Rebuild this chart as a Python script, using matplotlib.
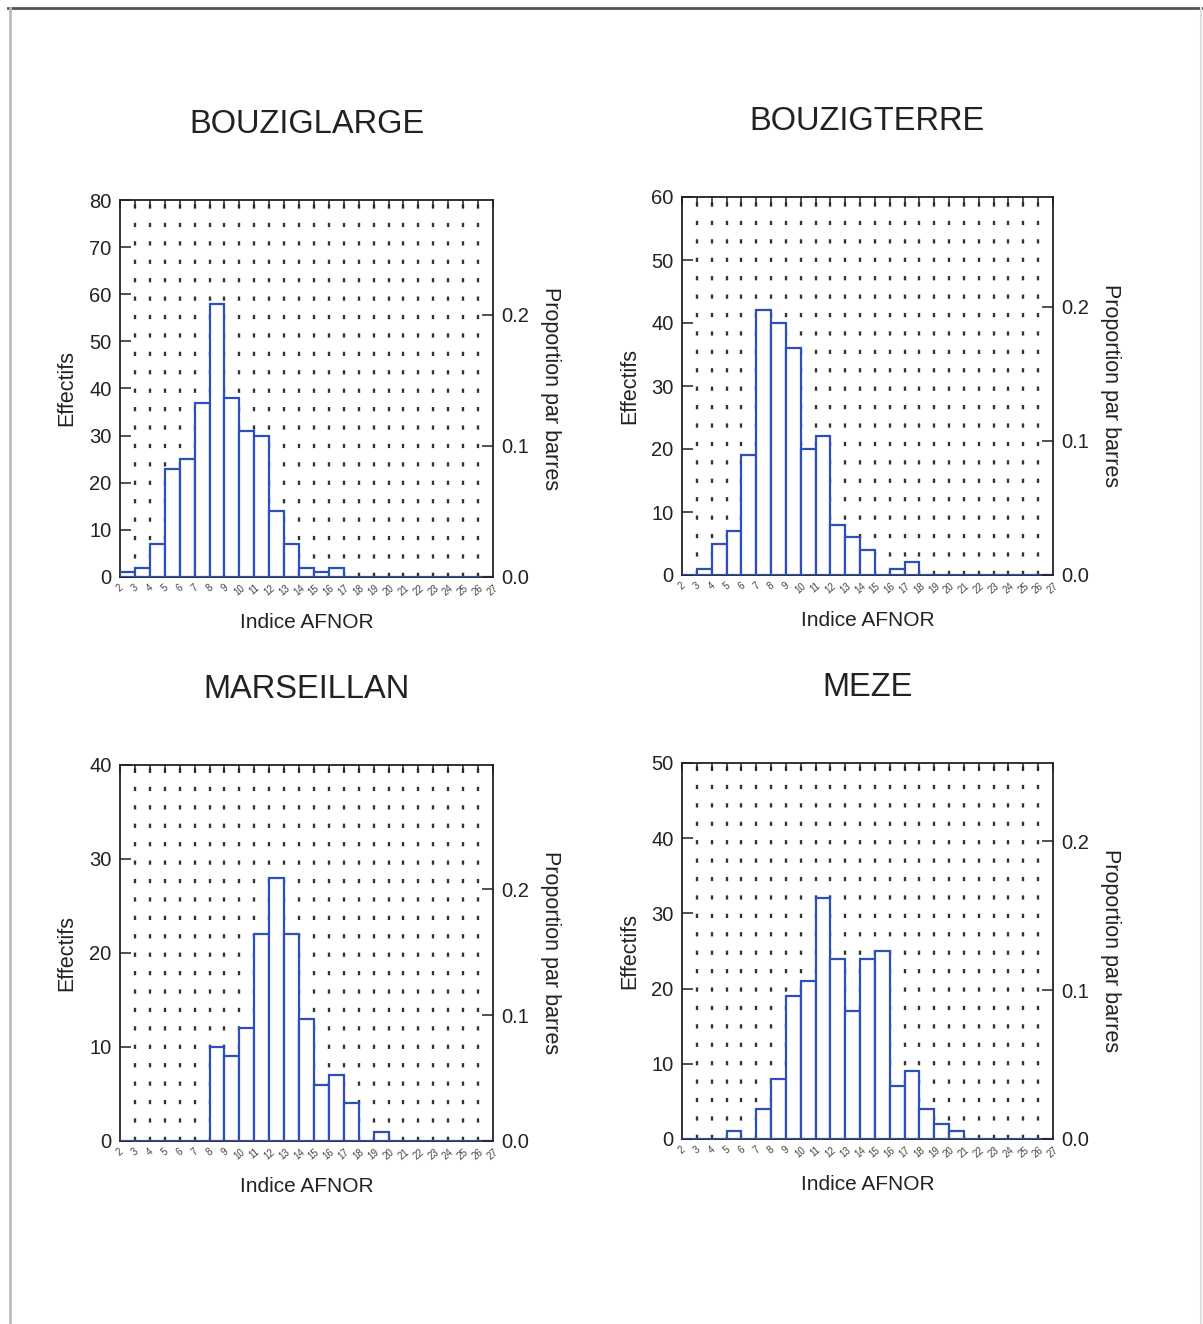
import numpy as np
import matplotlib
matplotlib.use("Agg")
import matplotlib.pyplot as plt
from matplotlib.lines import Line2D

plt.rcParams['font.family'] = ['Liberation Sans', 'DejaVu Sans']

# classes de l'indice AFNOR (bornes gauches 2..26, largeur 1)
edges = list(range(2, 28))
xticklabels = [str(v) for v in edges]

titles = ["BOUZIGLARGE", "BOUZIGTERRE", "MARSEILLAN", "MEZE"]
ymax = [80, 60, 40, 50]

bouziglarge = [1, 2, 7, 23, 25, 37, 58, 38, 31, 30, 14, 7, 2, 1, 2,
               0, 0, 0, 0, 0, 0, 0, 0, 0, 0]
bouzigterre = [0, 1, 5, 7, 19, 42, 40, 36, 20, 22, 8, 6, 4, 0, 1, 2,
               0, 0, 0, 0, 0, 0, 0, 0, 0]
marseillan = [0, 0, 0, 0, 0, 0, 10, 9, 12, 22, 28, 22, 13, 6, 7, 4, 0, 1,
              0, 0, 0, 0, 0, 0, 0]
meze = [0, 0, 0, 1, 0, 4, 8, 19, 21, 32, 24, 17, 24, 25, 7, 9, 4, 2, 1,
        0, 0, 0, 0, 0, 0]
series = [bouziglarge, bouzigterre, marseillan, meze]

W, H = 1203, 1324
fig = plt.figure(figsize=(W / 100, H / 100), dpi=100)

# positions des axes en pixels (gauche, haut, droite, bas)
boxes = [(120, 200, 493, 577), (682, 197, 1053, 575),
         (120, 765, 493, 1141), (682, 763, 1053, 1139)]

blue = '#2c4fb8'
dark = '#222222'

for box, title, counts, top in zip(boxes, titles, series, ymax):
    l, t, r, b = box
    ax = fig.add_axes([l / W, 1 - b / H, (r - l) / W, (b - t) / H])
    total = sum(counts)

    ax.bar(edges[:-1], counts, width=1, align='edge', facecolor='white',
           edgecolor=blue, linewidth=1.6, zorder=3)
    ax.set_xlim(edges[0], edges[-1])
    ax.set_ylim(0, top)

    # lignes verticales pointillées
    for x in edges[1:-1]:
        ax.axvline(x, color='#333333', linewidth=1.7,
                   linestyle=(0, (1.8, 6.0)), zorder=1)

    for s in ax.spines.values():
        s.set_color(dark)
        s.set_linewidth(1.3)

    ax.set_xticks(edges)
    ax.set_xticklabels(xticklabels, rotation=40, fontsize=7, color='#444444',
                       ha='center', va='top')
    ax.tick_params(axis='x', which='both', direction='in', top=True,
                   bottom=False, length=6, width=1.1, color=dark, pad=4)
    ax.set_yticks(np.arange(0, top + 1, 10))
    ax.tick_params(axis='y', direction='in', length=8, width=1.1,
                   color=dark, labelsize=14.5, pad=6, labelcolor=dark)

    ax2 = ax.twinx()
    ax2.set_ylim(0, top / total)
    ax2.set_yticks([0.0, 0.1, 0.2])
    ax2.set_yticklabels(['0.0', '0.1', '0.2'])
    ax2.tick_params(axis='y', direction='in', length=8, width=1.1,
                    color=dark, labelsize=14.5, pad=6, labelcolor=dark)
    for s in ax2.spines.values():
        s.set_visible(False)

    ax.set_title(title, fontsize=23.5, color=dark, pad=48)
    ax.text(0.5, -0.12, "Indice AFNOR", transform=ax.transAxes,
            ha='center', va='center', fontsize=15, color=dark)
    ax.text(-0.142, 0.5, "Effectifs", transform=ax.transAxes, rotation=90,
            ha='center', va='center', fontsize=15.5, color=dark)
    ax.text(1.155, 0.5, "Proportion par barres", transform=ax.transAxes,
            rotation=270, ha='center', va='center', fontsize=15.5,
            color=dark)

# cadre de la page
fig.add_artist(Line2D([8 / W, 1], [1 - 8 / H, 1 - 8 / H], color='#555555',
                      linewidth=2))
fig.add_artist(Line2D([10 / W, 10 / W], [0, 1 - 8 / H], color='#bbbbbb',
                      linewidth=2))
fig.add_artist(Line2D([1201 / W, 1201 / W], [0, 1 - 8 / H],
                      color='#dddddd', linewidth=1.5))

fig.savefig("out.png", dpi=100, facecolor='white')
